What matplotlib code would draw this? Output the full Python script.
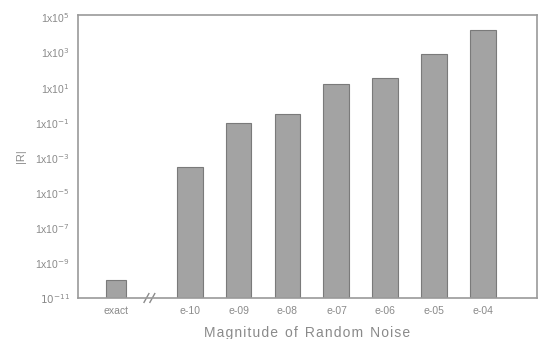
import matplotlib
matplotlib.use("Agg")
from matplotlib import pyplot as plt

plt.rcParams['font.family'] = ['Liberation Sans', 'DejaVu Sans']

labels = ["exact", "e-10", "e-09", "e-08", "e-07", "e-06", "e-05", "e-04"]
positions = [0, 1.5, 2.5, 3.5, 4.5, 5.5, 6.5, 7.5]
residuals = [1e-10, 10**-3.5, 10**-1.0, 10**-0.5, 10**1.2, 10**1.55, 10**2.9, 10**4.3]
widths = [0.4, 0.53, 0.53, 0.53, 0.53, 0.53, 0.53, 0.53]

ytick_vals = [1e-11, 1e-9, 1e-7, 1e-5, 1e-3, 1e-1, 1e1, 1e3, 1e5]
ytick_labels = ["$10^{-11}$", "1x10$^{-9}$", "1x10$^{-7}$", "1x10$^{-5}$", "1x10$^{-3}$",
                "1x10$^{-1}$", "1x10$^{1}$", "1x10$^{3}$", "1x10$^{5}$"]

txt = "#8a8a8a"
fig = plt.figure(figsize=(5.41, 3.39), dpi=100)
ax = fig.add_axes([0.144, 0.121, 0.849, 0.835])

ax.bar(positions, residuals, width=widths, bottom=1e-11, color="#a3a3a3",
       edgecolor="#7a7a7a", linewidth=0.8)

ax.set_yscale("log")
ax.set_ylim(1e-11, 10**5.15)
ax.set_xlim(-0.78, 8.6)
ax.set_yticks(ytick_vals)
ax.set_yticklabels(ytick_labels)
ax.minorticks_off()
ax.set_xticks(positions)
ax.set_xticklabels(labels)
ax.tick_params(length=0, labelsize=7.5, colors=txt, pad=6)

for s in ax.spines.values():
    s.set_color("#9a9a9a")
    s.set_linewidth(1.2)

# axis break marks
for dx in (0.62, 0.74):
    ax.plot([dx - 0.05, dx + 0.05], [10**-11.25, 10**-10.75], color="#8a8a8a",
            lw=1.0, clip_on=False)

ax.set_xlabel("M a g n i t u d e   o f   R a n d o m   N o i s e".replace("   ", "\u2002").replace(" ", "\u200a"),
              fontsize=10, color=txt, labelpad=7)
ax.set_ylabel("|R|", fontsize=8, color=txt, labelpad=6)

fig.savefig("out.png", dpi=100)
